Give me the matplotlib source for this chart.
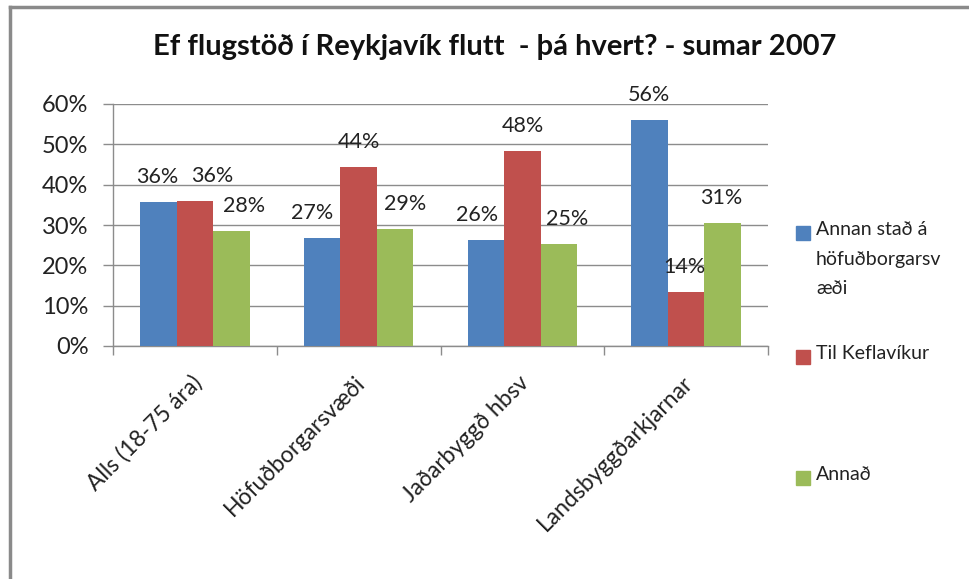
import matplotlib
matplotlib.use("Agg")
import matplotlib.pyplot as plt
from matplotlib.patches import Rectangle
from matplotlib.lines import Line2D
import numpy as np

plt.rcParams['font.family'] = ['Lato', 'DejaVu Sans']

categories = ["Alls (18-75 ára)", "Höfuðborgarsvæði", "Jaðarbyggð hbsv", "Landsbyggðarkjarnar"]
series_names = ["Annan stað á\nhöfuðborgarsv\næði", "Til Keflavíkur", "Annað"]
annan = [35.6, 26.9, 26.2, 56.1]
keflavik = [36.0, 44.4, 48.4, 13.5]
annad = [28.4, 29.1, 25.2, 30.6]
labels_annan = ["36%", "27%", "26%", "56%"]
labels_keflavik = ["36%", "44%", "48%", "14%"]
labels_annad = ["28%", "29%", "25%", "31%"]
yticks = [0, 10, 20, 30, 40, 50, 60]
title = "Ef flugstöð í Reykjavík flutt  - þá hvert? - sumar 2007"

colors = ["#4F81BD", "#C0504D", "#9BBB59"]
# horizontal label shifts (pixels) per series per category
label_dx = [[-1.5, -10, -9, -1], [17.5, 0, 0, -2], [13, 10, 8, -1]]

W, H = 970, 579
fig = plt.figure(figsize=(W / 100, H / 100), dpi=100)
ax = fig.add_axes([113 / W, 1 - 346 / H, 655 / W, 242 / H])

x = np.arange(len(categories))
bw = 0.2226
series = [annan, keflavik, annad]
labels = [labels_annan, labels_keflavik, labels_annad]
for i, (vals, col, lab) in enumerate(zip(series, colors, labels)):
    xs = x + (i - 1) * bw
    ax.bar(xs, vals, width=bw, color=col, zorder=3)
    for j, (xx, v, t) in enumerate(zip(xs, vals, lab)):
        ax.annotate(t, (xx, v), xytext=(label_dx[i][j] * 0.72, 25 * 0.72),
                    textcoords='offset points', ha='center', va='center',
                    fontsize=15.5, color='#222222', zorder=4)

ax.set_xlim(-0.5, len(categories) - 0.5)
ax.set_ylim(0, 60)
ax.set_yticks(yticks)
ax.set_yticklabels([f"{t}%" for t in yticks], fontsize=17, color='#222222')
ax.yaxis.grid(True, color='#8c8c8c', linewidth=1.0, zorder=0)
ax.set_axisbelow(True)
for s in ['top', 'right']:
    ax.spines[s].set_visible(False)
for s in ['left', 'bottom']:
    ax.spines[s].set_color('#8c8c8c')
    ax.spines[s].set_linewidth(1.0)
ax.tick_params(axis='y', length=7.2, color='#8c8c8c', width=1.0, pad=10.5)
ax.set_xticks(np.arange(len(categories) + 1) - 0.5)
ax.set_xticklabels([])
ax.tick_params(axis='x', length=6.5, color='#8c8c8c', width=1.0)
for j, c in enumerate(categories):
    ax.text(x[j] + 0.02, -8.3, c, rotation=45, rotation_mode='anchor',
            ha='right', va='center', fontsize=16.5, color='#222222')

fig.text(495 / W, 1 - 47 / H, title, ha='center', va='center',
         fontsize=21, fontweight='bold', color='#111111')

# legend, drawn manually
leg_y = [233, 357, 478]
for name, col, yy in zip(series_names, colors, leg_y):
    fig.patches.append(Rectangle((796 / W, 1 - (yy + 7) / H), 14 / W, 14 / H,
                                 transform=fig.transFigure, color=col))
    fig.text(816 / W, 1 - (yy - 12) / H, name, ha='left', va='top',
             fontsize=14, color='#222222', linespacing=1.9)

# outer frame
fig.add_artist(Line2D([10.5 / W, 10.5 / W], [0, 1 - 7 / H], color='#8a8a8a', linewidth=2.5,
                      transform=fig.transFigure))
fig.add_artist(Line2D([10.5 / W, 1], [1 - 7 / H, 1 - 7 / H], color='#8a8a8a', linewidth=2.5,
                      transform=fig.transFigure))

fig.savefig("out.png", dpi=100, facecolor='white')
